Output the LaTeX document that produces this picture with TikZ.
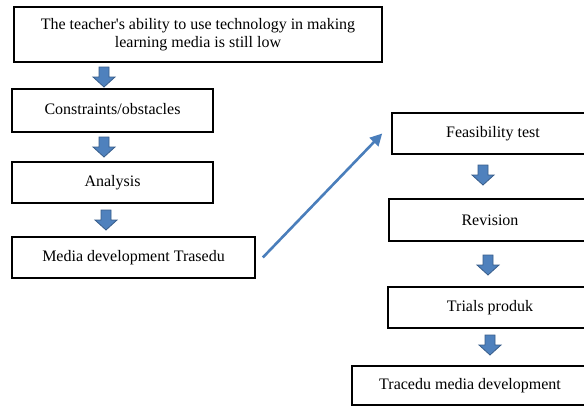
\documentclass[tikz,border=0pt]{standalone}
\usepackage{fontspec}
\setmainfont{Liberation Serif}[Ligatures=TeXOff]
\usetikzlibrary{arrows.meta}
\definecolor{arrfill}{RGB}{79,129,189}
\definecolor{arrdraw}{RGB}{56,93,138}
\definecolor{diagblue}{RGB}{74,126,187}
\tikzset{
  stepbox/.style={draw=black, line width=1.6pt, rectangle, inner sep=0pt, align=center,
    font=\fontsize{16}{18}\selectfont},
  diagarrow/.style={draw=diagblue, line width=2.6pt, -{Triangle[length=12pt,width=12pt]}},
  downarrow/.pic={
    \path[fill=arrfill, draw=arrdraw, line width=0.8pt, line join=miter]
      (-5,-10) -- (5,-10) -- (5,0) -- (11,0) -- (0,10) -- (-11,0) -- (-5,0) -- cycle;
  }
}
\begin{document}
\begin{tikzpicture}[x=1pt, y=-1pt]
\clip (0,0) rectangle (584,408);
\fill[white] (0,0) rectangle (584,408);

\node[stepbox, minimum width=368pt, minimum height=55pt] (t1) at (198,34.5)
  {The teacher's ability to use technology in making\\learning media is still low};
\node[stepbox, minimum width=201pt, text height=25pt, text depth=18pt, text width=201pt] (c2) at (112.5,110.5)
  {Constraints/obstacles};
\node[stepbox, minimum width=201pt, minimum height=41pt] (a3) at (112.5,182.5) {Analysis};
\node[stepbox, minimum width=243pt, minimum height=41pt] (m4) at (133.5,257.5) {Media development Trasedu};
\node[stepbox, minimum width=202pt, minimum height=41pt] (f5) at (493,133.5) {Feasibility test};
\node[stepbox, minimum width=202pt, minimum height=42pt] (r6) at (490,220) {Revision};
\node[stepbox, minimum width=204pt, minimum height=41pt] (p7) at (490,307.5) {Trials produk};
\node[stepbox, minimum width=236pt, minimum height=39pt] (d8) at (470,385.5) {Tracedu media development};

\pic at (104,77) {downarrow};
\pic at (104,147) {downarrow};
\pic at (106,220) {downarrow};
\pic at (483,175) {downarrow};
\pic at (488,265) {downarrow};
\pic at (490,345) {downarrow};

\draw[diagarrow] ([xshift=7pt]m4.east) -- ([xshift=-9pt]f5.west);
\end{tikzpicture}
\end{document}
